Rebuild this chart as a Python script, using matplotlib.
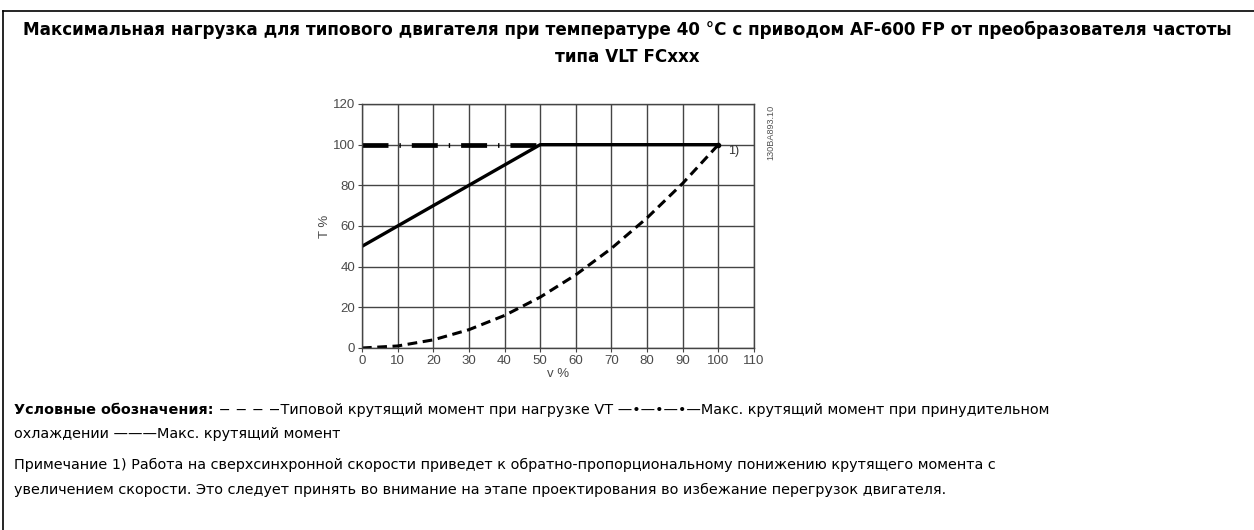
import numpy as np
import matplotlib
matplotlib.use("Agg")
import matplotlib.pyplot as plt
from matplotlib.lines import Line2D

plt.rcParams['lines.scale_dashes'] = False

# speed v % and torque T %
speed_vt = [0, 10, 20, 30, 40, 50, 60, 70, 80, 90, 100]
torque_vt = [0, 1, 4, 9, 16, 25, 36, 49, 64, 81, 100]
speed_max = [0, 50, 100]
torque_max = [50, 100, 100]
speed_forced = [0, 50]
torque_forced = [100, 100]

x_ticks = list(range(0, 111, 10))
y_ticks = list(range(0, 121, 20))

title = ("Максимальная нагрузка для типового двигателя при температуре 40 °C с приводом AF-600 FP от преобразователя частоты\n"
         "типа VLT FCxxx")
legend_head = "Условные обозначения:"
legend_line1 = " − − − −Типовой крутящий момент при нагрузке VT —•—•—•—Макс. крутящий момент при принудительном"
legend_line2 = "охлаждении ———Макс. крутящий момент"
note_line1 = "Примечание 1) Работа на сверхсинхронной скорости приведет к обратно-пропорциональному понижению крутящего момента с"
note_line2 = "увеличением скорости. Это следует принять во внимание на этапе проектирования во избежание перегрузок двигателя."

W, H = 1254, 530
fig = plt.figure(figsize=(W / 100, H / 100), dpi=100)

def fx(px):
    return px / W

def fy(py):
    return 1 - py / H

# outer frame (top and left edges)
fig.add_artist(Line2D([fx(3), 1.0], [fy(11), fy(11)], color='black', lw=1.2, transform=fig.transFigure))
fig.add_artist(Line2D([fx(3), fx(3)], [fy(11), 0.0], color='black', lw=1.2, transform=fig.transFigure))

fig.text(fx(627), fy(43), title, ha='center', va='center', fontsize=12.1,
         fontweight='bold', family='DejaVu Sans', linespacing=1.65)

ax = fig.add_axes([fx(362), fy(348), fx(754 - 362), (348 - 104) / H])
ax.plot(speed_vt, torque_vt, color='black', lw=2.2, linestyle=(0, (7.0, 4.0)), dash_capstyle='butt')
ax.plot(speed_forced, torque_forced, color='black', lw=3.4,
        linestyle=(0, (18.7, 7.9, 1.0, 7.9)), dash_capstyle='butt')
ax.plot(speed_max, torque_max, color='black', lw=2.4, solid_capstyle='butt')
ax.plot([speed_vt[-1]], [torque_vt[-1]], 'o', color='black', ms=3)
ax.text(102.8, 97, "1)", fontsize=9, family='Liberation Sans', color='#333333', va='center', ha='left')

ax.set_xlim(0, 110)
ax.set_ylim(0, 120)
ax.set_xticks(x_ticks)
ax.set_yticks(y_ticks)
ax.grid(True, color='#444444', lw=1.0)
ax.set_axisbelow(True)
for s in ax.spines.values():
    s.set_color('#444444')
    s.set_linewidth(1.0)
ax.tick_params(direction='out', length=3, width=0.8, color='#444444', labelsize=9.5,
               labelcolor='#4a4a4a', pad=2)
for lab in ax.get_xticklabels() + ax.get_yticklabels():
    lab.set_family('Liberation Sans')
ax.set_xlabel("v %", fontsize=9.5, family='Liberation Sans', color='#4a4a4a', labelpad=1)
ax.set_ylabel("T %", fontsize=9.5, family='Liberation Sans', color='#4a4a4a', labelpad=1)

fig.text(fx(771), fy(132), "130BA893.10", rotation=90, fontsize=6.6, family='Liberation Sans',
         color='#555555', ha='center', va='center')

# legend and note below the chart
fs = 10.35
head = fig.text(fx(14), fy(410), legend_head, fontsize=fs, fontweight='bold', va='center', ha='left')
fig.canvas.draw()
bb = head.get_window_extent(renderer=fig.canvas.get_renderer())
fig.text(bb.x1 / W, fy(410), legend_line1, fontsize=fs, va='center', ha='left')
fig.text(fx(14), fy(434), legend_line2, fontsize=fs, va='center', ha='left')
fig.text(fx(14), fy(465), note_line1, fontsize=fs, va='center', ha='left')
fig.text(fx(14), fy(490), note_line2, fontsize=fs, va='center', ha='left')

fig.savefig("out.png", dpi=100)
